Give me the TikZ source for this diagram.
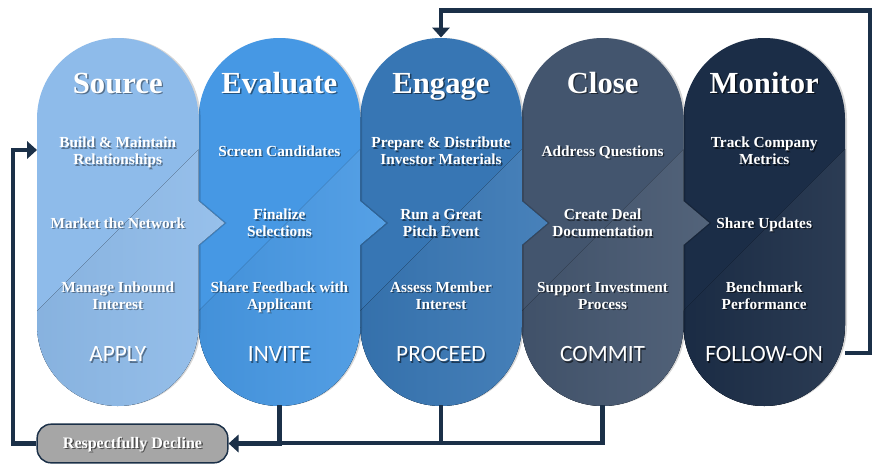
\documentclass[tikz,border=0pt]{standalone}
\usepackage{fontspec}
\setmainfont{Liberation Serif}
\newfontfamily\lblfont{Carlito}
\usetikzlibrary{arrows.meta}
\definecolor{cA}{HTML}{8EBBEA}
\definecolor{cB}{HTML}{4698E4}
\definecolor{cC}{HTML}{3776B4}
\definecolor{cD}{HTML}{43556E}
\definecolor{cE}{HTML}{1B2D47}
\definecolor{navy}{HTML}{1B3048}
\definecolor{declgray}{HTML}{A6A6A6}
\newcommand\tabc[1]{\begin{tabular}{@{}c@{}}#1\end{tabular}}
\newcommand\shd[2]{\leavevmode\rlap{\hspace{1pt}\raisebox{-1pt}{\color{#1}\tabc{#2}}}\tabc{#2}}
\newcommand\stagepath[2]{(#1,118.8) arc[start angle=180,end angle=360,radius=80.8]
  -- ({#1+161.6},201) -- ({#1+161.6+#2},223) -- ({#1+161.6},245)
  -- ({#1+161.6},325.2) arc[start angle=0,end angle=180,radius=80.8] -- cycle}
\newcommand\stage[3]{% #1 x0, #2 colour, #3 chevron length
  \fill[black,opacity=0.16] \stagepath{#1+2}{#3};
  \fill[#2] \stagepath{#1}{#3};
  \begin{scope}
    \clip \stagepath{#1}{#3};
    \fill[left color=#2!95!black,right color=#2!91!white]
      (#1-5,316) -- (#1+200,111) -- (#1+200,420) -- (#1-5,420) -- cycle;
  \end{scope}}
\newcommand\stagetexts[8]{% #1 prefix, #2 x, #3 shadow colour, #4 title, #5-#7 items, #8 label
  \node[ttl] (#1t) at (#2,87) {\shd{#3}{#4}};
  \node[itm] (#1a) at (#2,153.5) {\shd{#3}{#5}};
  \node[itm] (#1b) at (#2,225.5) {\shd{#3}{#6}};
  \node[itm] (#1c) at (#2,298) {\shd{#3}{#7}};
  \node[lbl] (#1l) at (#2,357) {\shd{#3}{#8}};}
\begin{document}
\begin{tikzpicture}[x=0.75pt,y=-0.75pt,
  ttl/.style={inner sep=0pt,text=white,font=\fontsize{23}{27}\selectfont\bfseries},
  itm/.style={inner sep=0pt,text=white,font=\fontsize{11.5}{12.75}\selectfont\bfseries},
  lbl/.style={inner sep=0pt,text=white,font=\lblfont\fontsize{17.5}{21}\selectfont},
  conn/.style={draw=navy,line width=3.2pt,line join=miter},
  tip/.style={-{Triangle[width=13pt,length=7.5pt]}},
  declbox/.style={draw=navy,line width=1.1pt,fill=declgray,rounded corners=10.5pt,
    minimum width=143pt,minimum height=29pt,inner sep=0pt,text=white,
    font=\fontsize{12}{14}\selectfont\bfseries}]
\useasboundingbox (0,0) rectangle (878,469);
\fill[white] (0,0) rectangle (878,469);
% columns, right to left so that each chevron lies over the next column
\stage{683.4}{cE}{0}
\stage{521.8}{cD}{26}
\stage{360.2}{cC}{26}
\stage{198.6}{cB}{26}
\stage{37}{cA}{26}
% texts
\stagetexts{src}{117.8}{black!40!cA}{Source}{Build \& Maintain\\Relationships}{Market the Network}{Manage Inbound\\Interest}{APPLY}
\stagetexts{eva}{279.4}{black!45!cB}{Evaluate}{Screen Candidates}{Finalize\\Selections}{Share Feedback with\\Applicant}{INVITE}
\stagetexts{eng}{441}{black!50!cC}{Engage}{Prepare \& Distribute\\Investor Materials}{Run a Great\\Pitch Event}{Assess Member\\Interest}{PROCEED}
\stagetexts{clo}{602.6}{black!55!cD}{Close}{Address Questions}{Create Deal\\Documentation}{Support Investment\\Process}{COMMIT}
\stagetexts{mon}{764.2}{black!60!cE}{Monitor}{Track Company\\Metrics}{Share Updates}{Benchmark\\Performance}{FOLLOW-ON}
% decline box
\node[declbox,text depth=2pt] (decl) at (132.5,443.5) {\shd{black!55!declgray}{Respectfully Decline}};
% connection points
\coordinate (monR) at (845,353);
\coordinate (engT) at (441,37.5);
\coordinate (evaB) at (279.4,405);
\coordinate (engB) at (441,405);
\coordinate (cloB) at (602.6,405);
\coordinate (evaJ) at (279.4,443);
\coordinate (engJ) at (441,443);
\coordinate (srcL) at (37,150);
% connectors
\draw[conn,tip] (monR) -- (870,353) |- (441,10.5) -- (engT);
\draw[conn] (cloB) |- (evaJ);
\draw[conn] (engB) -- (engJ);
\draw[conn,tip] (evaB) |- (decl.east);
\draw[conn,tip] (decl.west) -- (13,443.5) |- (srcL);
\end{tikzpicture}
\end{document}
